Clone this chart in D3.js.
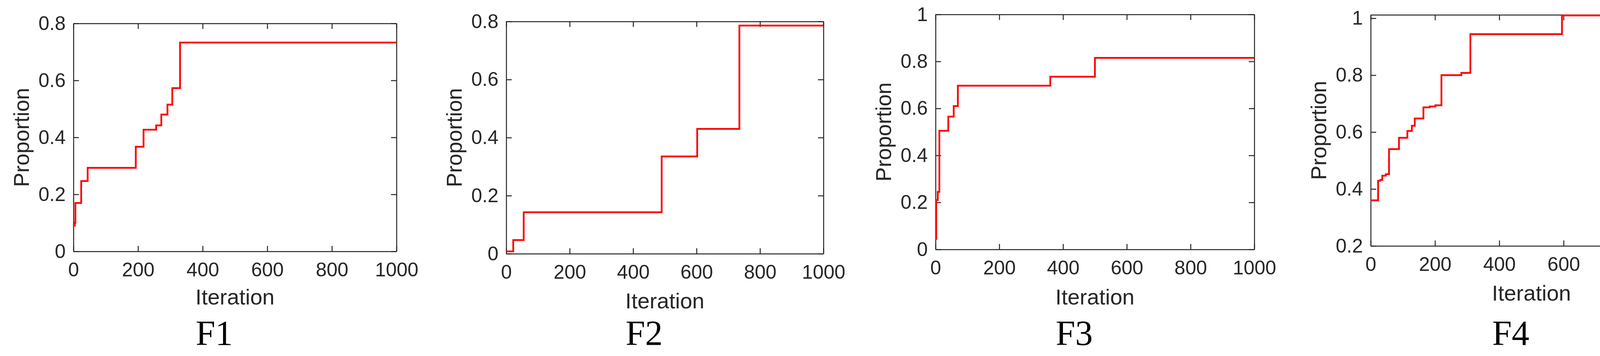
<!DOCTYPE html>
<html><head><meta charset="utf-8">
<script src="https://cdn.jsdelivr.net/npm/d3@7"></script>
<style>body{margin:0;background:#fff}svg{display:block}</style>
</head><body>
<svg id="c" width="4373" height="912"></svg>
<script>
const titles = ["F1","F2","F3","F4"];
const xTicks = [0,200,400,600,800,1000];
const f1X = [0,4,6,24,44,193,217,256,272,291,306,330,1000];
const f1Y = [0.09,0.1,0.17,0.247,0.293,0.367,0.427,0.442,0.48,0.515,0.573,0.733,0.733];
const f2X = [0,22,55,490,602,735,1000];
const f2Y = [0.008,0.047,0.143,0.335,0.43,0.786,0.786];
const f3X = [0,2,7,12,40,57,70,360,500,1000];
const f3Y = [0.045,0.21,0.245,0.505,0.565,0.61,0.697,0.735,0.815,0.815];
const f4X = [0,23,30,36,47,57,88,114,128,137,164,184,201,220,282,310,595,1000];
const f4Y = [0.36,0.429,0.432,0.447,0.452,0.54,0.58,0.604,0.622,0.648,0.687,0.69,0.694,0.80,0.808,0.944,1.01,1.01];
const yDomains = [[0,0.8],[0,0.8],[0,1],[0.2,1.012]];
const yTicks = [[0,0.2,0.4,0.6,0.8],[0,0.2,0.4,0.6,0.8],[0,0.2,0.4,0.6,0.8,1],[0.2,0.4,0.6,0.8,1]];
const series = [[f1X,f1Y],[f2X,f2Y],[f3X,f3Y],[f4X,f4Y]];
const boxes = [
  {x0:188,x1:1015,y0:60,y1:644,ty:780},
  {x0:1296,x1:2108,y0:55,y1:650,ty:790},
  {x0:2395,x1:3211,y0:37,y1:639,ty:780},
  {x0:3509,x1:4332,y0:38,y1:630,ty:770}
];
const svg = d3.select("#c");
const axisColor = "#262626";
const sans = "Arial, 'Liberation Sans', sans-serif";
series.forEach((s,i)=>{
  const b = boxes[i];
  const x = d3.scaleLinear().domain([0,1000]).range([b.x0,b.x1]);
  const y = d3.scaleLinear().domain(yDomains[i]).range([b.y1,b.y0]);
  const g = svg.append("g");
  const styleAxis = sel=>{
    sel.selectAll("path").attr("stroke",axisColor).attr("stroke-width",2.5);
    sel.selectAll("line").attr("stroke",axisColor).attr("stroke-width",2.5);
    sel.selectAll("text").attr("fill",axisColor).attr("font-family",sans).attr("font-size",50);
  };
  g.append("g").attr("transform",`translate(0,${b.y1})`)
    .call(d3.axisBottom(x).tickValues(xTicks).tickSize(-14).tickPadding(28).tickSizeOuter(0).tickFormat(d3.format("d")))
    .call(styleAxis);
  g.append("g").attr("transform",`translate(0,${b.y0})`)
    .call(d3.axisTop(x).tickValues(xTicks).tickSize(-14).tickSizeOuter(0).tickFormat(""))
    .call(styleAxis);
  g.append("g").attr("transform",`translate(${b.x0},0)`)
    .call(d3.axisLeft(y).tickValues(yTicks[i]).tickSize(-14).tickPadding(20).tickSizeOuter(0).tickFormat(d=>String(d)))
    .call(styleAxis);
  g.append("g").attr("transform",`translate(${b.x1},0)`)
    .call(d3.axisRight(y).tickValues(yTicks[i]).tickSize(-14).tickSizeOuter(0).tickFormat(""))
    .call(styleAxis);
  const pts = s[0].map((v,k)=>[v,s[1][k]]);
  const line = d3.line().x(d=>x(d[0])).y(d=>y(d[1])).curve(d3.curveStepAfter);
  g.append("path").datum(pts).attr("d",line).attr("fill","none").attr("stroke","#ff0000").attr("stroke-width",4.5);
  g.append("text").attr("x",(b.x0+b.x1)/2).attr("y",b.ty).attr("text-anchor","middle")
    .attr("font-family",sans).attr("font-size",56).attr("fill",axisColor).text("Iteration");
  g.append("text").attr("transform",`translate(${b.x0-114},${(b.y0+b.y1)/2}) rotate(-90)`).attr("text-anchor","middle")
    .attr("font-family",sans).attr("font-size",55).attr("fill",axisColor).text("Proportion");
  g.append("text").attr("x",(b.x0+b.x1)/2 - 53).attr("y",884).attr("text-anchor","middle")
    .attr("font-family","'Liberation Serif', 'Times New Roman', serif").attr("font-size",90).attr("fill","#000").text(titles[i]);
});
</script>
</body></html>
